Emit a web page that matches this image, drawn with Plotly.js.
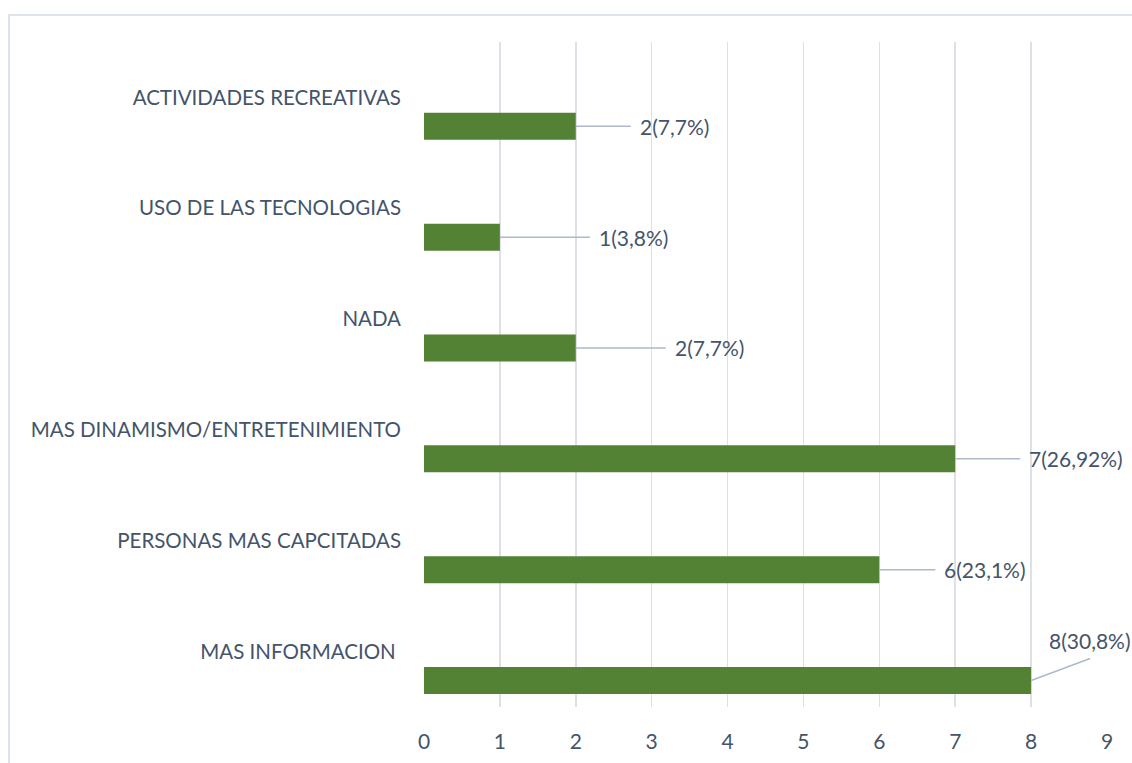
<!DOCTYPE html>
<html>
<head>
<meta charset="utf-8">
<script src="https://cdn.plot.ly/plotly-3.0.1.min.js"></script>
<style>
  html, body { margin: 0; padding: 0; background: #fff; overflow: hidden; }
  #frame { position: absolute; left: 8px; top: 14px; width: 1140px; height: 770px; border: 2px solid #DDE3EA; box-sizing: border-box; }
  #chart { position: absolute; left: 0; top: 0; width: 1132px; height: 763px; }
</style>
</head>
<body>
<div id="frame"></div>
<div id="chart"></div>
<script>
// Data (bottom to top)
const categories = [
  "MAS INFORMACION ",
  "PERSONAS MAS CAPCITADAS",
  "MAS DINAMISMO/ENTRETENIMIENTO",
  "NADA",
  "USO DE LAS TECNOLOGIAS",
  "ACTIVIDADES RECREATIVAS"
];
const counts = [8, 6, 7, 2, 1, 2];
const labels = ["8(30,8%)", "6(23,1%)", "7(26,92%)", "2(7,7%)", "1(3,8%)", "2(7,7%)"];
const xTicks = [0, 1, 2, 3, 4, 5, 6, 7, 8, 9];

// label leader-line offsets (styling, px)
const leaderDX = [59, 56, 65, 90, 90, 55];
const leaderDY = [-22, 0, 0, 0, 0, 0];

const textColor = "#44546A";
const fontFamily = "Lato, 'Open Sans', sans-serif";

const trace = {
  type: "bar",
  orientation: "h",
  y: categories,
  x: counts,
  width: 0.244,
  offset: -0.383,
  marker: { color: "#548235" },
  hoverinfo: "x+y"
};

const annotations = categories.map((c, i) => {
  const last = leaderDY[i] !== 0;
  return {
    x: counts[i], y: c,
    yshift: -0.261 * 110.8,
    text: labels[i],
    showarrow: true, arrowhead: 0, arrowwidth: 1.5, arrowcolor: "#ADB9CA",
    ax: leaderDX[i], ay: leaderDY[i],
    xanchor: last ? "center" : "left",
    yanchor: last ? "bottom" : "middle",
    font: { family: fontFamily, size: 21, color: textColor },
    borderpad: last ? 4 : 8
  };
});

const layout = {
  width: 1132, height: 763,
  margin: { l: 424, r: 25, t: 42, b: 56 },
  paper_bgcolor: "rgba(0,0,0,0)",
  plot_bgcolor: "rgba(0,0,0,0)",
  showlegend: false,
  font: { family: fontFamily, size: 20, color: textColor },
  xaxis: {
    range: [0, 9], tickvals: xTicks, showgrid: true, gridcolor: "#DDE1E7", gridwidth: 1.5,
    zeroline: false, showline: false, ticks: "", ticklabelstandoff: 20,
    tickfont: { family: fontFamily, size: 21, color: textColor }, fixedrange: true
  },
  yaxis: {
    type: "category", categoryorder: "array", categoryarray: categories,
    showgrid: false, zeroline: false, showline: false, ticks: "",
    ticklabelstandoff: 22,
    tickfont: { family: fontFamily, size: 20.5, color: textColor }, fixedrange: true
  },
  annotations: annotations
};

Plotly.newPlot("chart", [trace], layout, { displayModeBar: false, staticPlot: true });
</script>
</body>
</html>
